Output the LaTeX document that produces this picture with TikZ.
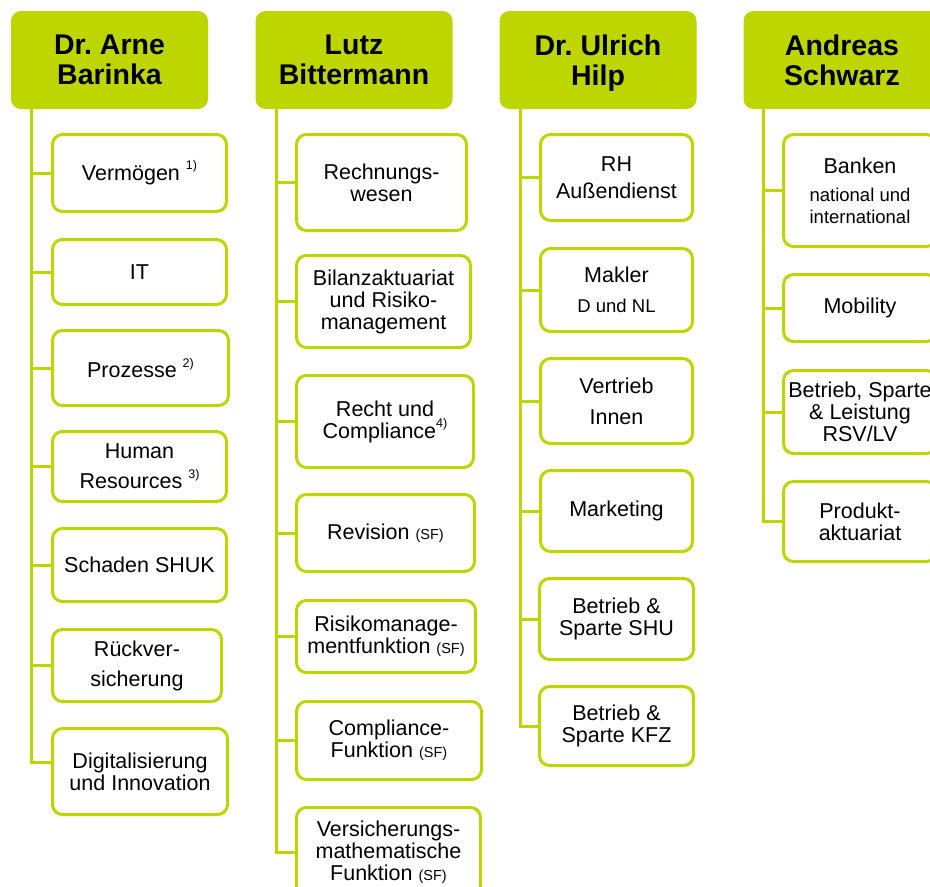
\documentclass[tikz,border=0pt]{standalone}
\usepackage{fontspec}
\setmainfont{Liberation Sans}
\frenchspacing
\definecolor{lime}{RGB}{190,214,0}
\newcommand{\fnref}[1]{\raisebox{0.5em}{\fontsize{12.5}{12.5}\selectfont#1}}
\newcommand{\minor}[1]{{\fontsize{14.5}{14.5}\selectfont#1}}
\newcommand{\smalltext}{\fontsize{18.5}{19}\selectfont}
\tikzset{inner sep=0pt}

\begin{document}
\begin{tikzpicture}[x=1pt,y=-1pt,
        boss/.style={rounded corners=10pt,fill=lime,minimum width=197pt,minimum height=98pt,text depth=0pt,align=center,font=\fontsize{28.5}{30}\selectfont\bfseries},
        dept/.style={rounded corners=10pt,draw=lime,line width=3pt,fill=white,align=center,font=\fontsize{21.5}{22}\selectfont},
        dim/.style 2 args={minimum width=#1pt,minimum height=#2pt},
        trunk/.style={draw=lime,line width=3pt}]
        \useasboundingbox (0,0) rectangle (930,887);
        \clip (0,0) rectangle (930,887);

        \node[boss] (arne) at (109.5,60) {Dr. Arne\\Barinka};
        \node[boss] (lutz) at (354,60) {Lutz\\Bittermann};
        \node[boss] (ulrich) at (598,60) {Dr. Ulrich\\Hilp};
        \node[boss] (andreas) at (842,60) {Andreas\\Schwarz};

        \node[dept,dim={174}{77}] (verm) at (139.5,173) {Vermögen \fnref{1)}};
        \node[dept,dim={174}{65}] (it) at (139.5,272) {IT};
        \node[dept,dim={176}{75}] (proz) at (140.5,368) {Prozesse \fnref{2)}};
        \node[dept,dim={174}{70}] (hr) at (139.5,466.5) {Human\\[8pt]Resources \fnref{3)}};
        \node[dept,dim={174}{73}] (schaden) at (139.5,565) {Schaden SHUK};
        \node[dept,dim={169}{72}] (rueck) at (137,665.5) {Rückver-\\[8pt]sicherung};
        \node[dept,dim={175}{86}] (digi) at (140,771.5) {Digitalisierung\\und Innovation};

        \node[dept,dim={170}{96}] (rech) at (381.5,182.5) {Rechnungs-\\wesen};
        \node[dept,dim={174}{92}] (bilanz) at (383.5,301.5) {Bilanzaktuariat\\und Risiko-\\management};
        \node[dept,dim={177}{92}] (recht) at (385,421.5) {Recht und\\Compliance\fnref{4)}};
        \node[dept,dim={178}{77}] (revision) at (385.5,533) {Revision \minor{(SF)}};
        \node[dept,dim={179}{72}] (risiko) at (386,636.5) {Risikomanage-\\mentfunktion \minor{(SF)}};
        \node[dept,dim={185}{78}] (compl) at (389,740.5) {Compliance-\\Funktion \minor{(SF)}};
        \node[dept,dim={184}{89}] (vma) at (388.5,852) {Versicherungs-\\mathematische\\Funktion \minor{(SF)}};

        \node[dept,dim={152}{86}] (rh) at (616.5,177.5) {RH\\[5pt]Außendienst};
        \node[dept,dim={152}{83}] (makler) at (616.5,290) {Makler\\[8pt]{\smalltext D und NL}};
        \node[dept,dim={152}{85}] (vertrieb) at (616.5,401) {Vertrieb\\[9pt]Innen};
        \node[dept,dim={152}{81}] (marketing) at (616.5,511) {Marketing};
        \node[dept,dim={154}{81}] (shu) at (616.5,619) {Betrieb \&\\Sparte SHU};
        \node[dept,dim={154}{79}] (kfz) at (616.5,726) {Betrieb \&\\Sparte KFZ};

        \node[dept,dim={153}{112}] (banken) at (860,190.5) {Banken\\[6pt]{\smalltext national und}\\{\smalltext international}};
        \node[dept,dim={153}{67}] (mobility) at (860,308) {Mobility};
        \node[dept,dim={153}{83}] (rsv) at (860,412) {Betrieb, Sparte\\\& Leistung\\RSV/LV};
        \node[dept,dim={153}{80}] (produkt) at (860,521.5) {Produkt-\\aktuariat};

        \foreach \b in {verm,it,proz,hr,schaden,rueck}
            \draw[trunk] ([xshift=21pt]arne.south west) |- (\b.west);
        \draw[trunk] ([xshift=21pt]arne.south west) |- ([yshift=9pt]digi.west);
        \foreach \b in {rech,bilanz,recht,revision,risiko,compl,vma}
            \draw[trunk] ([xshift=21pt]lutz.south west) |- (\b.west);
        \foreach \b in {rh,makler,vertrieb,marketing,shu,kfz}
            \draw[trunk] ([xshift=21pt]ulrich.south west) |- (\b.west);
        \foreach \b in {banken,mobility,rsv,produkt}
            \draw[trunk] ([xshift=20pt]andreas.south west) |- (\b.west);
\end{tikzpicture}
\end{document}
